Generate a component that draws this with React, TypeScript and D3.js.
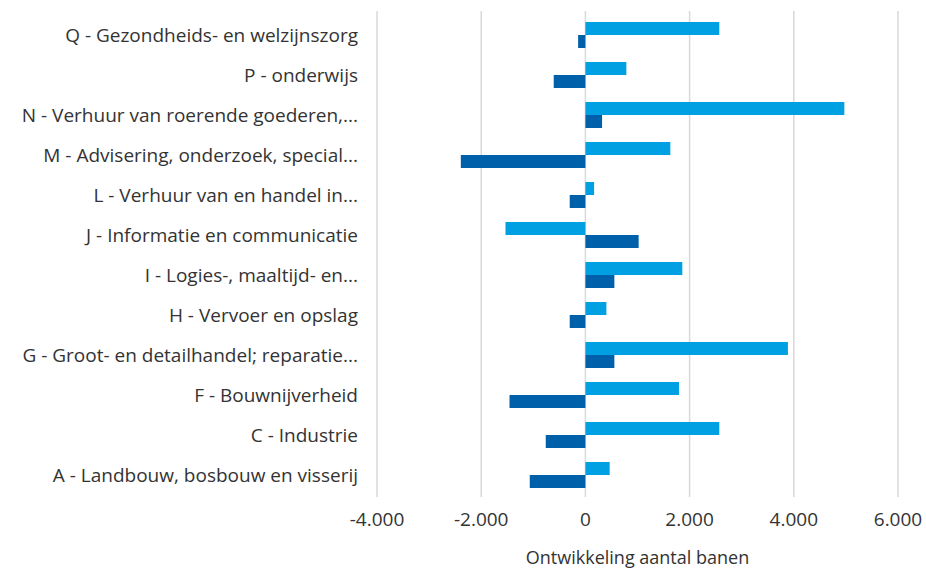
import React, { useEffect, useRef } from "react";
import * as d3 from "d3";

const categories = [
  "Q - Gezondheids- en welzijnszorg",
  "P - onderwijs",
  "N - Verhuur van roerende goederen,...",
  "M - Advisering, onderzoek, special...",
  "L - Verhuur van en handel in...",
  "J - Informatie en communicatie",
  "I - Logies-, maaltijd- en...",
  "H - Vervoer en opslag",
  "G - Groot- en detailhandel; reparatie...",
  "F - Bouwnijverheid",
  "C - Industrie",
  "A - Landbouw, bosbouw en visserij",
];

// light blue series (top bar in each group)
const seriesA = [2570, 786, 4970, 1630, 167, -1534, 1860, 403, 3887, 1797, 2570, 466];
// dark blue series (bottom bar in each group)
const seriesB = [-140, -608, 320, -2391, -301, 1022, 556, -301, 556, -1457, -761, -1068];

const xTicks = [-4000, -2000, 0, 2000, 4000, 6000];
const axisTitle = "Ontwikkeling aantal banen";

const fmt = (v: number) => d3.format(",")(v).replace(/,/g, ".").replace("−", "-");

export default function App() {
  const ref = useRef<SVGSVGElement>(null);

  useEffect(() => {
    const svg = d3.select(ref.current);
    svg.selectAll("*").remove();

    const font = "'Open Sans', sans-serif";
    const x = d3.scaleLinear().domain([-4000, 6000]).range([377, 898]);
    const y = d3.scaleBand<string>().domain(categories).range([15, 495]).paddingInner(0.35).paddingOuter(0.175);
    const sub = d3.scaleBand<string>().domain(["a", "b"]).range([0, y.bandwidth()]);

    // gridlines
    svg.append("g")
      .selectAll("line")
      .data(xTicks)
      .join("line")
      .attr("x1", d => x(d))
      .attr("x2", d => x(d))
      .attr("y1", 11)
      .attr("y2", 497)
      .attr("stroke", "#d9d9d9")
      .attr("stroke-width", 1.5);

    const groups = svg.append("g")
      .selectAll("g")
      .data(categories)
      .join("g")
      .attr("transform", d => `translate(0,${y(d)})`);

    groups.append("rect")
      .attr("x", (d, i) => x(Math.min(0, seriesA[i])))
      .attr("y", sub("a")!)
      .attr("width", (d, i) => Math.abs(x(seriesA[i]) - x(0)))
      .attr("height", sub.bandwidth())
      .attr("fill", "#00a0e3");

    groups.append("rect")
      .attr("x", (d, i) => x(Math.min(0, seriesB[i])))
      .attr("y", sub("b")!)
      .attr("width", (d, i) => Math.abs(x(seriesB[i]) - x(0)))
      .attr("height", sub.bandwidth())
      .attr("fill", "#0060aa");

    // category labels
    svg.append("g")
      .selectAll("text")
      .data(categories)
      .join("text")
      .attr("x", 358)
      .attr("y", d => y(d)! + y.bandwidth() / 2)
      .attr("dy", "0.35em")
      .attr("text-anchor", "end")
      .attr("font-family", font)
      .attr("font-size", 19)
      .attr("fill", "#333")
      .text(d => d);

    // tick labels
    svg.append("g")
      .selectAll("text")
      .data(xTicks)
      .join("text")
      .attr("x", d => x(d))
      .attr("y", 519)
      .attr("dy", "0.35em")
      .attr("text-anchor", "middle")
      .attr("font-family", font)
      .attr("font-size", 19)
      .attr("fill", "#333")
      .text(d => fmt(d));

    svg.append("text")
      .attr("x", (x(-4000) + x(6000)) / 2)
      .attr("y", 558)
      .attr("dy", "0.35em")
      .attr("text-anchor", "middle")
      .attr("font-family", font)
      .attr("font-size", 18)
      .attr("fill", "#333")
      .text(axisTitle);
  }, []);

  return (
    <svg ref={ref} width={926} height={571} style={{ position: "absolute", left: 0, top: 0, background: "#fff" }} />
  );
}
